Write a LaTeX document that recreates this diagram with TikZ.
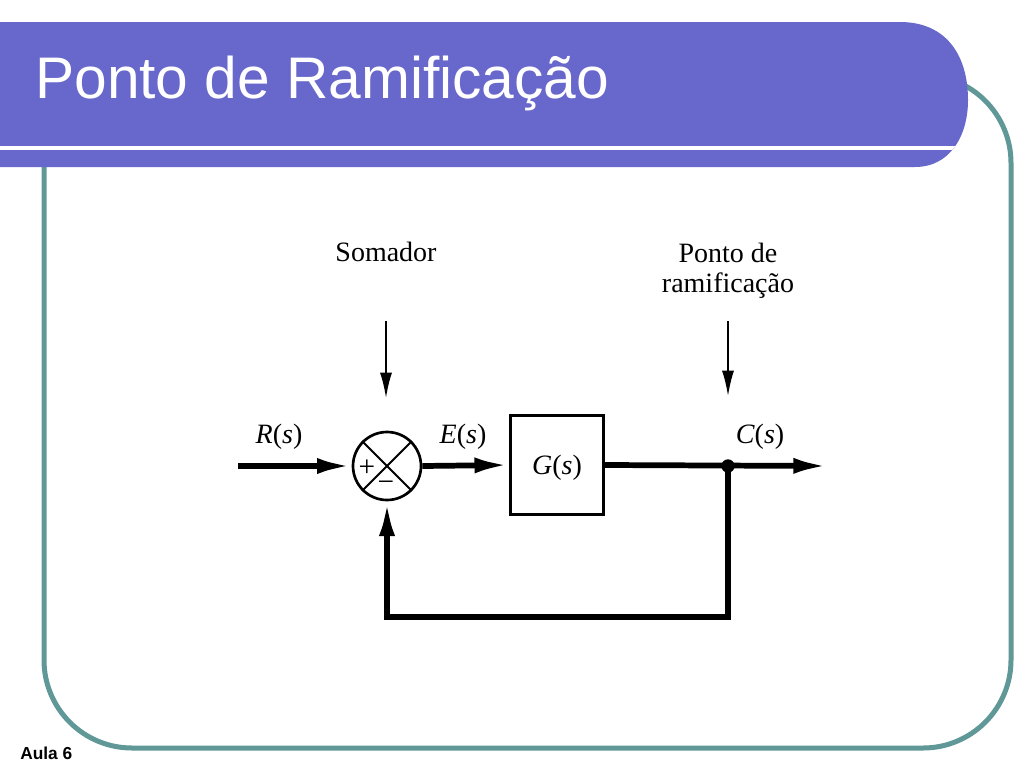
\documentclass[tikz,border=0pt]{standalone}
\usepackage{fontspec}
\setmainfont{Liberation Serif}
\newfontfamily\sansfont{Liberation Sans}
\usetikzlibrary{arrows.meta}
\definecolor{barblue}{RGB}{104,104,204}
\definecolor{frameteal}{RGB}{96,152,152}
\newcommand{\sig}[1]{\textit{#1}(\textit{s})}
\def\barpath{(0,22) -- (900,22) .. controls (946,22) and (968,55) .. (968,100) .. controls (968,136) and (950,167) .. (915,167) -- (0,167) -- cycle}
\begin{document}
\begin{tikzpicture}[x=0.75pt,y=-0.75pt,
  lbl/.style={inner sep=0pt, font=\fontsize{21}{22.5}\selectfont},
  sigline/.style={line width=4.3pt, -{Latex[length=26pt,width=12pt]}},
  thinarrow/.style={line width=1.3pt, -{Latex[length=19pt,width=9pt]}},
  sumnode/.style={circle, draw, line width=2pt, minimum size=51pt, inner sep=0pt},
  blocknode/.style={rectangle, draw, line width=2pt, minimum width=69.75pt, minimum height=74.25pt, inner sep=0pt},
  signnode/.style={inner sep=0pt, font=\fontsize{22}{22}\selectfont}]
\useasboundingbox (0,0) rectangle (1024,768);
\fill[white] (0,0) rectangle (1024,768);
% frame
\draw[frameteal, line width=3.75pt, rounded corners=66pt] (44,75) rectangle (1011,748);
% title bar
\fill[barblue] \barpath;
\begin{scope}
  \clip \barpath;
  \draw[white, line width=3pt] (0,148) -- (1000,148);
\end{scope}
\node[anchor=base west, text=white, inner sep=0pt, font=\sansfont\fontsize{44}{44}\selectfont] (title) at (35,98) {Ponto de Ramificação};
\node[anchor=base west, inner sep=0pt, font=\sansfont\bfseries\fontsize{13}{13}\selectfont] (aula) at (20,759) {Aula 6};
% diagram
\node[sumnode] (sum) at (387,466) {};
\draw[line width=1.5pt] (sum.45) -- (sum.225) (sum.135) -- (sum.315);
\node[signnode] (plus) at (367,468) {+};
\node[signnode] (minus) at (386,486) {\textminus};
\node[blocknode] (G) at (557,465) {};
\node[lbl] (Glbl) at (557,468) {\sig{G}};
\coordinate (in) at (238,466);
\coordinate (br) at (728,466);
\coordinate (out) at (828,466);
\coordinate (fb) at (728,617);
\draw[sigline] (in) -- (sum.west);
\draw[sigline] (sum.east) -- (G.west);
\draw[sigline] (G.east) -- (out);
\draw[sigline] (br) -- (fb) -| (sum.south);
\fill (br) circle (5pt);
\node[lbl] (R) at (279,437) {\sig{R}};
\node[lbl] (E) at (463,437) {\sig{E}};
\node[lbl] (C) at (760,437) {\sig{C}};
\node[lbl, anchor=base] (somador) at (386,261) {Somador};
\node[lbl, align=center] (ponto) at (728,271) {Ponto de\\ramificação};
\coordinate (s1) at (386,321);
\coordinate (s2) at (386,398);
\coordinate (p1) at (728,321);
\coordinate (p2) at (728,396);
\draw[thinarrow] (s1) -- (s2);
\draw[thinarrow] (p1) -- (p2);
\end{tikzpicture}
\end{document}
